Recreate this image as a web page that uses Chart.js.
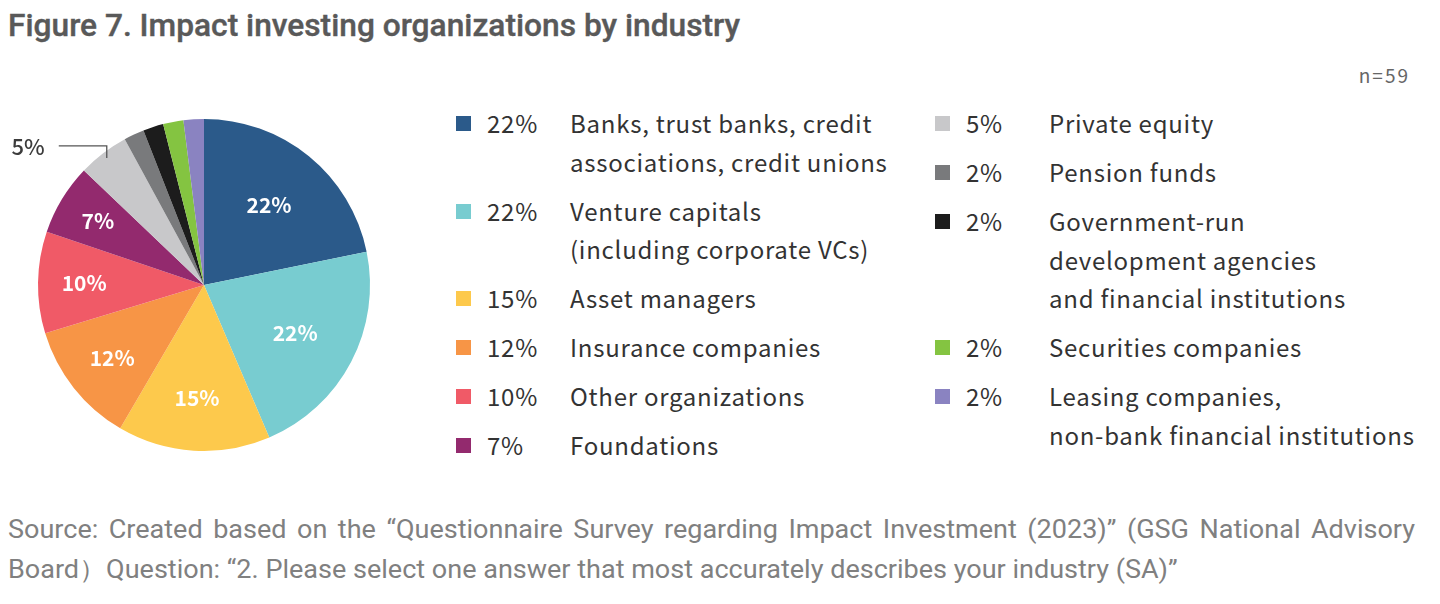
<!DOCTYPE html>
<html>
<head>
<meta charset="utf-8">
<script src="https://cdn.jsdelivr.net/npm/chart.js@4.4.1/dist/chart.umd.min.js"></script>
<style>
  html, body { margin: 0; padding: 0; background: #fff; }
  body { width: 1440px; height: 604px; position: relative; overflow: hidden; }
  .title { position: absolute; left: 8px; top: 7px; font: 500 32px Roboto, sans-serif; color: #595959; white-space: nowrap; transform-origin: left top; line-height: 36px; -webkit-text-stroke: 0.4px #595959; }
  .n { position: absolute; right: 30px; top: 61px; font: 19px "Noto Sans CJK JP", sans-serif; color: #666; letter-spacing: 2px; }
  #pieBox { position: absolute; left: 0; top: 100px; width: 408px; height: 370px; }
  .legend { position: absolute; top: 104px; font: 24px "Noto Sans CJK JP", sans-serif; color: #333; letter-spacing: 0.75px; }
  .item { position: relative; line-height: 38.5px; margin-bottom: 10.5px; padding-left: 114px; white-space: nowrap; }
  .item .sw { position: absolute; left: 0; top: 12px; width: 15px; height: 15px; }
  .item .pct { position: absolute; left: 31px; top: 0; }
  .src { position: absolute; left: 8px; font: 26px Roboto, sans-serif; color: #808080; white-space: nowrap; transform-origin: left top; line-height: 40px; }
</style>
</head>
<body>
<div class="title" id="title">Figure 7. Impact investing organizations by industry</div>
<div class="n">n=59</div>
<div id="pieBox"><canvas id="pieChart"></canvas></div>
<div class="legend" id="legLeft" style="left:456px"></div>
<div class="legend" id="legRight" style="left:935px"></div>
<div class="src" id="src1" style="top:509px; text-align: justify; text-align-last: justify;">Source: Created based on the “Questionnaire Survey regarding Impact Investment (2023)” (GSG National Advisory</div>
<div class="src" id="src2" style="top:549px;">Board）Question: “2. Please select one answer that most accurately describes your industry (SA)”</div>

<script>
// =====================
// DATA
// =====================

const industries = [
  "Banks, trust banks, credit\nassociations, credit unions",
  "Venture capitals\n(including corporate VCs)",
  "Asset managers",
  "Insurance companies",
  "Other organizations",
  "Foundations",
  "Private equity",
  "Pension funds",
  "Government-run\ndevelopment agencies\nand financial institutions",
  "Securities companies",
  "Leasing companies,\nnon-bank financial institutions"
];

const shares = [22, 22, 15, 12, 10, 7, 5, 2, 2, 2, 2];

const sliceColors = [
  "#2b5a8a", "#78ccd0", "#fdc94c", "#f79546", "#f05a67", "#932a6e",
  "#c8c8ca", "#797a7c", "#1c1c1c", "#84c441", "#8a83c1"
];

// first 6 go in left legend column, rest in right
const LEFT_COUNT = 6;


// =====================
// LEGEND
// =====================

function renderLegend() {
  const left = document.getElementById("legLeft");
  const right = document.getElementById("legRight");

  industries.forEach((name, i) => {
    const item = document.createElement("div");
    item.className = "item";
    item.innerHTML = `
      <span class="sw" style="background:${sliceColors[i]}"></span>
      <span class="pct">${shares[i]}%</span>
      ${name.split("\n").join("<br>")}
    `;
    (i < LEFT_COUNT ? left : right).appendChild(item);
  });
}


// =====================
// PIE LABELS
// =====================

const sliceLabels = {
  id: "sliceLabels",
  afterDatasetsDraw(chart) {
    const ctx = chart.ctx;
    const arcs = chart.getDatasetMeta(0).data;

    ctx.save();
    arcs.forEach((arc, i) => {
      const v = shares[i];
      const { x, y, startAngle, endAngle, outerRadius } = arc.getProps(
        ["x", "y", "startAngle", "endAngle", "outerRadius"], true);
      const mid = (startAngle + endAngle) / 2;

      if (v >= 7) {
        const r = outerRadius * (0.62 + (22 - v) * 0.0085);
        ctx.font = "bold 21px 'Noto Sans CJK JP', sans-serif";
        ctx.fillStyle = "#fff";
        ctx.textAlign = "center";
        ctx.textBaseline = "middle";
        ctx.fillText(v + "%", x + Math.cos(mid) * r, y + Math.sin(mid) * r);
      } else if (v >= 5) {
        // outside label with elbow leader
        const ex = x + Math.cos(mid) * (outerRadius - 6);
        const ey = y + Math.sin(mid) * (outerRadius - 6);
        const ly = ey - 12;
        ctx.strokeStyle = "#555";
        ctx.lineWidth = 1.3;
        ctx.beginPath();
        ctx.moveTo(ex, ey);
        ctx.lineTo(ex, ly);
        ctx.lineTo(ex - 48, ly);
        ctx.stroke();
        ctx.font = "500 22px 'Noto Sans CJK JP', sans-serif";
        ctx.fillStyle = "#3c3c3c";
        ctx.textAlign = "right";
        ctx.textBaseline = "middle";
        ctx.fillText(v + "%", ex - 62, ly + 1);
      }
    });
    ctx.restore();
  }
};


// =====================
// CHART
// =====================

function renderPie() {
  new Chart(document.getElementById("pieChart"), {
    type: "pie",
    data: {
      labels: industries.map(s => s.replace(/\n/g, " ")),
      datasets: [{
        data: shares,
        backgroundColor: sliceColors,
        borderWidth: 0
      }]
    },
    options: {
      responsive: true,
      maintainAspectRatio: false,
      animation: false,
      layout: { padding: { top: 19, bottom: 19, left: 0, right: 0 } },
      plugins: {
        legend: { display: false },
        tooltip: { enabled: false }
      }
    },
    plugins: [sliceLabels]
  });
}


// =====================
// TEXT FITTING (condensed look)
// =====================

function fitText() {
  const title = document.getElementById("title");
  title.style.transform = `scaleX(${732 / title.scrollWidth})`;

  const s1 = document.getElementById("src1");
  const s2 = document.getElementById("src2");
  const k = 1170 / s2.scrollWidth;
  s2.style.transform = `scaleX(${k})`;
  s1.style.width = (1407 / k) + "px";
  s1.style.transform = `scaleX(${k})`;
}


// =====================
// INIT
// =====================

renderLegend();
renderPie();
fitText();
</script>
</body>
</html>
